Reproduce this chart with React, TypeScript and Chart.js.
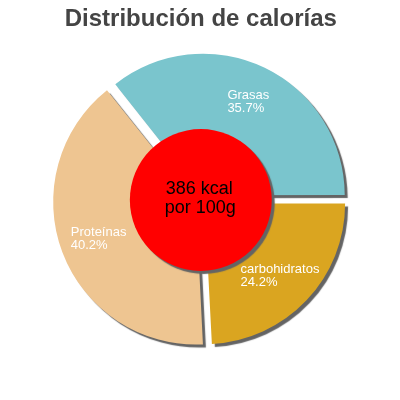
import React, { useEffect, useRef } from 'react';
import { Chart, registerables, Plugin } from 'chart.js';

Chart.register(...registerables);

// drawn clockwise from 3 o'clock
const categories = ['carbohidratos', 'Proteínas', 'Grasas'];
const percents = [24.2, 40.2, 35.7];
const sliceColors = ['#DAA520', '#EEC591', '#7AC5CD'];
const titleText = 'Distribución de calorías';
const centerLines = ['386 kcal', 'por 100g'];

const FONT = 'Arial, "Liberation Sans", Helvetica, sans-serif';
// chart.js draws arcs shifted by offset / 4
const SLICE_OFFSET = 21;

const shadowPlugin: Plugin<'pie'> = {
    id: 'sliceShadow',
    beforeDatasetsDraw(chart) {
        const ctx = chart.ctx;
        ctx.save();
        ctx.shadowColor = '#646464';
        ctx.shadowOffsetX = 3;
        ctx.shadowOffsetY = 3;
        ctx.shadowBlur = 1;
    },
    afterDatasetsDraw(chart) {
        const ctx = chart.ctx;
        ctx.restore();

        const meta = chart.getDatasetMeta(0);
        const first: any = meta.data[0];
        if (!first) return;
        const cx = first.x;
        const cy = first.y;
        const R = first.outerRadius;

        // slice labels
        ctx.save();
        ctx.font = '13px ' + FONT;
        ctx.fillStyle = '#ffffff';
        ctx.textBaseline = 'middle';
        ctx.textAlign = 'left';
        meta.data.forEach((el: any, i: number) => {
            const mid = (el.startAngle + el.endAngle) / 2;
            const off = (el.options.offset || 0) / 4;
            const r = R * 0.74 + off;
            const px = cx + Math.cos(mid) * r;
            const py = cy + Math.sin(mid) * r;
            const lines = [categories[i], percents[i].toFixed(1) + '%'];
            const w = Math.max(...lines.map(l => ctx.measureText(l).width));
            const left = px - w / 2;
            ctx.fillText(lines[0], left, py - 6);
            ctx.fillText(lines[1], left, py + 7);
        });
        ctx.restore();

        // centre disc
        ctx.save();
        ctx.shadowColor = '#646464';
        ctx.shadowOffsetX = 3;
        ctx.shadowOffsetY = 3;
        ctx.shadowBlur = 1;
        ctx.beginPath();
        ctx.arc(cx, cy, R * 0.505, 0, Math.PI * 2);
        ctx.fillStyle = '#ff0000';
        ctx.fill();
        ctx.restore();

        ctx.save();
        ctx.font = '18px ' + FONT;
        ctx.fillStyle = '#000000';
        ctx.textAlign = 'center';
        ctx.textBaseline = 'middle';
        ctx.fillText(centerLines[0], cx - 1.5, cy - 10.5);
        ctx.fillText(centerLines[1], cx - 0.5, cy + 8);
        ctx.restore();
    },
};

const CaloriePie = () => {
    const chartRef = useRef<HTMLCanvasElement>(null);

    useEffect(() => {
        if (chartRef.current == null) return;
        const ctx = chartRef.current.getContext('2d');
        if (ctx == null) return;
        const myChart = new Chart(ctx, {
            type: 'pie',
            data: {
                labels: categories,
                datasets: [{
                    data: percents,
                    backgroundColor: sliceColors,
                    borderWidth: 0,
                    offset: SLICE_OFFSET,
                    hoverOffset: SLICE_OFFSET,
                }],
            },
            options: {
                animation: false,
                responsive: true,
                maintainAspectRatio: false,
                rotation: 90,
                radius: 140.5,
                layout: { padding: { bottom: 34.8, left: 1.6 } },
                events: [],
                plugins: {
                    legend: { display: false },
                    tooltip: { enabled: false },
                    title: {
                        display: true,
                        text: titleText,
                        color: '#444444',
                        font: { family: FONT, size: 24, weight: 'bold', lineHeight: 1.2 },
                        padding: { top: 5, bottom: 1 },
                    },
                },
            },
            plugins: [shadowPlugin],
        });
        return () => {
            myChart.destroy();
        };
    }, []);

    return (
        <div style={{ position: 'fixed', left: 0, top: 0, width: 400, height: 400, background: '#fff' }}>
            <canvas ref={chartRef} />
        </div>
    );
};

export default function App() {
    return <CaloriePie />;
}
